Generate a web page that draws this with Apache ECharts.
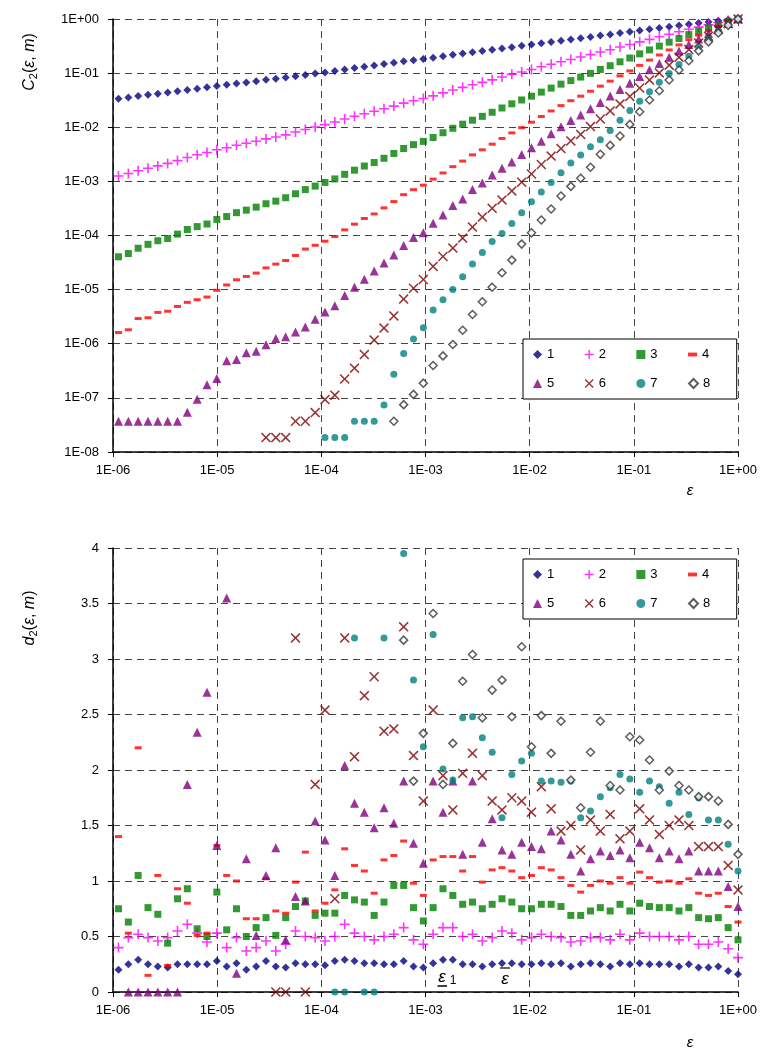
<!DOCTYPE html>
<html><head><meta charset="utf-8">
<script src="https://cdn.jsdelivr.net/npm/echarts@6/dist/echarts.min.js"></script>
<style>html,body{margin:0;padding:0;background:#fff}#c{width:769px;height:1050px}</style>
</head><body><div id="c"></div>
<script>
// scale values epsilon (k = 0 .. 63)
const eps = [1.129e-6,1.404e-6,1.744e-6,2.168e-6,2.694e-6,3.348e-6,4.161e-6,5.171e-6,6.427e-6,7.987e-6,
 9.926e-6,1.234e-5,1.533e-5,1.905e-5,2.368e-5,2.943e-5,3.657e-5,4.545e-5,5.649e-5,7.020e-5,
 8.725e-5,1.084e-4,1.348e-4,1.675e-4,2.081e-4,2.587e-4,3.215e-4,3.995e-4,4.966e-4,6.171e-4,
 7.669e-4,9.532e-4,1.184e-3,1.472e-3,1.830e-3,2.274e-3,2.826e-3,3.512e-3,4.365e-3,5.424e-3,
 6.742e-3,8.379e-3,1.041e-2,1.294e-2,1.608e-2,1.999e-2,2.484e-2,3.088e-2,3.837e-2,4.769e-2,
 5.928e-2,7.367e-2,9.155e-2,0.1138,0.1414,0.1757,0.2184,0.2714,0.3373,0.4190,
 0.5208,0.6473,0.8045,1];

const seriesNames = ['1','2','3','4','5','6','7','8'];

// correlation integral C2(eps, m)
const c2m1 = [0.0335,0.0354,0.0377,0.0398,0.0418,0.0439,0.0464,0.0489,0.0517,0.0546,
 0.0580,0.0610,0.0645,0.0674,0.0708,0.0752,0.0791,0.0830,0.0878,0.0928,
 0.0979,0.103,0.110,0.117,0.124,0.131,0.139,0.147,0.155,0.165,
 0.173,0.182,0.192,0.205,0.218,0.230,0.243,0.255,0.270,0.285,
 0.302,0.319,0.337,0.356,0.376,0.398,0.418,0.442,0.467,0.493,
 0.519,0.549,0.580,0.613,0.647,0.684,0.722,0.759,0.801,0.840,
 0.882,0.927,0.966,1];
const c2m2 = [0.00126,0.00140,0.00157,0.00175,0.00193,0.00215,0.00242,0.00277,0.00310,0.00342,
 0.00384,0.00419,0.00466,0.00505,0.00551,0.00609,0.00660,0.00724,0.00816,0.00910,
 0.0101,0.0112,0.0125,0.0142,0.0160,0.0178,0.0197,0.0220,0.0246,0.0279,
 0.0309,0.0340,0.0380,0.0432,0.0489,0.0546,0.0611,0.0675,0.0751,0.0847,
 0.0950,0.105,0.117,0.131,0.146,0.162,0.179,0.198,0.220,0.245,
 0.271,0.304,0.337,0.378,0.421,0.469,0.523,0.580,0.646,0.709,
 0.779,0.859,0.935,1];
const c2m3 = [4.04e-5,4.64e-5,5.82e-5,6.87e-5,8.00e-5,8.80e-5,1.06e-4,1.29e-4,1.46e-4,1.63e-4,
 1.98e-4,2.24e-4,2.64e-4,2.94e-4,3.34e-4,3.86e-4,4.31e-4,4.99e-4,5.90e-4,7.05e-4,
 8.18e-4,9.55e-4,1.11e-3,1.35e-3,1.61e-3,1.92e-3,2.23e-3,2.67e-3,3.28e-3,4.05e-3,
 4.77e-3,5.48e-3,6.47e-3,7.92e-3,9.57e-3,0.0114,0.0135,0.0159,0.0189,0.0227,
 0.0271,0.0319,0.0375,0.0446,0.0529,0.0626,0.0727,0.0845,0.0990,0.117,
 0.137,0.162,0.190,0.227,0.268,0.316,0.373,0.437,0.516,0.596,
 0.688,0.796,0.903,1];
const c2m4 = [1.61e-6,1.81e-6,2.92e-6,3.02e-6,3.79e-6,3.99e-6,4.89e-6,5.82e-6,6.50e-6,7.29e-6,
 9.71e-6,1.22e-5,1.52e-5,1.75e-5,2.02e-5,2.52e-5,2.96e-5,3.45e-5,4.28e-5,5.62e-5,
 6.59e-5,7.84e-5,9.58e-5,1.27e-4,1.62e-4,2.06e-4,2.50e-4,3.24e-4,4.23e-4,5.68e-4,
 7.03e-4,8.50e-4,1.10e-3,1.43e-3,1.87e-3,2.37e-3,3.09e-3,3.83e-3,4.87e-3,6.21e-3,
 7.87e-3,9.84e-3,0.0124,0.0158,0.0200,0.0251,0.0309,0.0375,0.0463,0.0575,
 0.0711,0.0890,0.110,0.139,0.174,0.216,0.268,0.332,0.415,0.503,
 0.608,0.738,0.872,1];
const c2m5 = [3.70e-8,3.70e-8,3.70e-8,3.70e-8,3.70e-8,3.70e-8,3.70e-8,5.45e-8,9.46e-8,1.74e-7,
 2.29e-7,4.83e-7,5.13e-7,6.79e-7,7.30e-7,9.55e-7,1.25e-6,1.34e-6,1.64e-6,2.04e-6,
 2.85e-6,3.84e-6,5.01e-6,7.82e-6,1.11e-5,1.56e-5,2.20e-5,3.09e-5,4.35e-5,6.56e-5,
 9.23e-5,1.12e-4,1.69e-4,2.38e-4,3.60e-4,4.71e-4,7.11e-4,9.31e-4,1.31e-3,1.74e-3,
 2.28e-3,3.13e-3,4.16e-3,5.51e-3,7.55e-3,0.0102,0.0133,0.0169,0.0219,0.0288,
 0.0377,0.0498,0.0647,0.0867,0.115,0.150,0.197,0.256,0.337,0.428,
 0.542,0.687,0.845,1];
const c2m6 = [null,null,null,null,null,null,null,null,null,null,
 null,null,null,null,null,1.85e-8,1.85e-8,1.85e-8,3.70e-8,3.70e-8,
 5.35e-8,9.29e-8,1.12e-7,2.23e-7,3.54e-7,6.32e-7,1.17e-6,1.95e-6,3.27e-6,6.68e-6,
 1.06e-5,1.54e-5,2.68e-5,4.09e-5,5.85e-5,8.98e-5,1.43e-4,2.19e-4,3.18e-4,4.54e-4,
 6.65e-4,9.66e-4,1.37e-3,2.05e-3,2.94e-3,4.03e-3,5.58e-3,7.37e-3,0.0103,0.0142,
 0.0200,0.0270,0.0371,0.0531,0.0743,0.101,0.140,0.196,0.272,0.362,
 0.481,0.639,0.819,1];
const c2m7 = [null,null,null,null,null,null,null,null,null,null,
 null,null,null,null,null,null,null,null,null,null,
 null,1.85e-8,1.85e-8,1.85e-8,3.70e-8,3.70e-8,3.70e-8,7.40e-8,2.74e-7,6.61e-7,
 1.22e-6,1.97e-6,4.21e-6,6.53e-6,1.01e-5,1.73e-5,2.96e-5,4.86e-5,7.78e-5,1.09e-4,
 1.67e-4,2.63e-4,4.20e-4,6.34e-4,9.57e-4,1.44e-3,2.18e-3,3.06e-3,4.37e-3,5.90e-3,
 8.75e-3,0.0134,0.0203,0.0301,0.0455,0.0680,0.0983,0.145,0.206,0.301,
 0.422,0.591,0.789,1];
const c2m8 = [null,null,null,null,null,null,null,null,null,null,
 null,null,null,null,null,null,null,null,null,null,
 null,null,null,null,null,null,null,null,3.70e-8,7.50e-8,
 1.16e-7,1.87e-7,3.97e-7,5.97e-7,9.70e-7,1.78e-6,3.48e-6,5.96e-6,1.11e-5,2.05e-5,
 3.51e-5,6.93e-5,1.12e-4,1.93e-4,3.08e-4,5.35e-4,8.09e-4,1.14e-3,1.82e-3,3.16e-3,
 4.62e-3,6.87e-3,0.0113,0.0194,0.0318,0.0473,0.0745,0.114,0.169,0.258,
 0.378,0.550,0.764,1];

// local slope d2(eps, m)
const d2m1 = [0.20,0.25,0.29,0.25,0.23,0.22,0.25,0.25,0.25,0.25,0.28,0.23,0.26,0.20,0.23,0.28,0.23,0.22,0.26,0.25,0.25,
 0.24,0.28,0.29,0.28,0.26,0.26,0.25,0.25,0.28,0.23,0.22,0.26,0.29,0.29,0.25,0.25,0.23,0.25,0.26,0.26,
 0.25,0.25,0.26,0.25,0.26,0.23,0.25,0.26,0.25,0.23,0.26,0.25,0.26,0.25,0.25,0.25,0.23,0.25,0.22,0.22,0.23,0.19,0.16];
const d2m2 = [0.40,0.49,0.52,0.49,0.46,0.49,0.55,0.61,0.53,0.45,0.53,0.40,0.49,0.37,0.40,0.46,0.37,0.43,0.55,0.50,0.49,
 0.46,0.50,0.61,0.53,0.50,0.47,0.50,0.52,0.58,0.47,0.43,0.52,0.58,0.58,0.50,0.52,0.46,0.49,0.55,0.53,
 0.47,0.49,0.52,0.50,0.49,0.45,0.46,0.49,0.49,0.47,0.52,0.47,0.53,0.50,0.50,0.50,0.47,0.50,0.43,0.43,0.45,0.39,0.31];
const d2m3 = [0.75,0.63,1.05,0.76,0.70,0.44,0.84,0.93,0.57,0.50,0.90,0.56,0.75,0.50,0.58,0.67,0.51,0.67,0.77,0.82,0.69,
 0.71,0.71,0.87,0.83,0.81,0.69,0.81,0.96,0.96,0.76,0.64,0.76,0.93,0.87,0.79,0.81,0.75,0.79,0.84,0.81,
 0.75,0.75,0.79,0.79,0.77,0.69,0.69,0.73,0.76,0.73,0.79,0.73,0.80,0.77,0.76,0.76,0.73,0.76,0.67,0.66,0.67,0.58,0.47];
const d2m4 = [1.40,0.53,2.20,0.15,1.05,0.24,0.93,0.80,0.51,0.53,1.32,1.05,1.00,0.66,0.66,1.02,0.73,0.71,0.99,1.26,0.73,
 0.80,0.92,1.29,1.14,1.09,0.89,1.19,1.23,1.36,0.98,0.87,1.19,1.22,1.22,1.09,1.22,0.99,1.10,1.12,1.09,
 1.03,1.05,1.12,1.10,1.03,0.96,0.90,0.96,1.00,0.98,1.03,0.98,1.08,1.03,0.99,1.00,0.98,1.02,0.89,0.87,0.89,0.77,0.63];
const d2m5 = [null,0,0,0,0,0,0,1.87,2.34,2.70,1.32,3.55,0.17,1.20,0.51,1.05,1.30,0.47,0.86,0.82,
 1.54,1.37,1.05,2.04,1.70,1.62,1.48,1.66,1.52,1.90,
 1.34,1.16,1.90,1.62,1.90,1.24,1.90,1.35,1.56,1.28,
 1.24,1.35,1.31,1.29,1.45,1.37,1.24,1.09,1.20,1.27,
 1.23,1.28,1.21,1.35,1.30,1.21,1.27,1.20,1.27,1.09,
 1.09,1.09,0.95,0.77];
const d2m6 = [null,null,null,null,null,null,null,null,null,null,
 null,null,null,null,null,null,0,0,3.19,0,
 1.87,2.54,0.84,3.19,2.12,2.67,2.84,2.35,2.37,3.29,
 2.13,1.72,2.54,1.95,1.64,1.97,2.15,1.95,1.72,1.64,
 1.75,1.72,1.62,1.85,1.65,1.45,1.50,1.28,1.55,1.45,
 1.60,1.38,1.45,1.65,1.55,1.42,1.50,1.55,1.50,1.31,
 1.31,1.31,1.14,0.92];
const d2m7 = [null,null,null,null,null,null,null,null,null,null,
 null,null,null,null,null,null,null,null,null,null,
 null,null,0,0,3.19,0,0,3.19,5.68,3.95,
 2.81,2.21,3.22,2.01,1.91,2.47,2.48,2.29,2.16,1.57,
 1.96,2.08,2.15,1.90,1.90,1.89,1.90,1.57,1.63,1.76,
 1.84,1.96,1.92,1.80,1.90,1.85,1.70,1.80,1.60,1.75,
 1.55,1.55,1.33,1.09];
const d2m8 = [null,null,null,null,null,null,null,null,null,null,
 null,null,null,null,null,null,null,null,null,null,
 null,null,null,null,null,null,null,null,null,3.17,
 1.90,2.33,3.41,1.87,2.24,2.80,3.04,2.47,2.72,2.81,
 2.48,3.11,2.21,2.49,2.15,2.44,1.91,1.66,2.16,2.44,
 1.86,1.82,2.30,2.27,2.09,1.82,1.99,1.86,1.82,1.76,
 1.76,1.72,1.51,1.24];

const xTickLabels = ['1E-06','1E-05','1E-04','1E-03','1E-02','1E-01','1E+00'];
const cTickLabels = ['1E-08','1E-07','1E-06','1E-05','1E-04','1E-03','1E-02','1E-01','1E+00'];
const dTickLabels = ['0','0.5','1','1.5','2','2.5','3','3.5','4'];

const C2 = [c2m1,c2m2,c2m3,c2m4,c2m5,c2m6,c2m7,c2m8];
const D2 = [d2m1,d2m2,d2m3,d2m4,d2m5,d2m6,d2m7,d2m8];

const FF = '"Liberation Sans", Arial, sans-serif';
const PLUS = 'path://M4.2,0 H5.8 V4.2 H10 V5.8 H5.8 V10 H4.2 V5.8 H0 V4.2 H4.2 Z';
const CROSS = 'path://M0,1.1 L1.1,0 L5,3.9 L8.9,0 L10,1.1 L6.1,5 L10,8.9 L8.9,10 L5,6.1 L1.1,10 L0,8.9 L3.9,5 Z';
const DASH = 'path://M0,0 H7 V3 H0 Z';
const styles = [
  {symbol:'diamond', size:8, item:{color:'#000080'}},
  {symbol:PLUS, size:10, item:{color:'#FF00FF'}},
  {symbol:'rect', size:7, item:{color:'#008000'}},
  {symbol:DASH, size:[7,3], item:{color:'#FF0000'}},
  {symbol:'triangle', size:9, item:{color:'#800080'}},
  {symbol:CROSS, size:10, item:{color:'#800000'}},
  {symbol:'circle', size:7, item:{color:'#008080'}},
  {symbol:'diamond', size:8, item:{color:'#FFFFFF', borderColor:'#333333', borderWidth:1.5}}
];

function pts(vals){ const out=[]; vals.forEach((v,i)=>{ if(v!==null) out.push([eps[i], v]); }); return out; }
function ex(v){ return Math.round(Math.log10(v)); }

const series = [];
for (let m=0;m<8;m++){
  series.push({type:'scatter', name:seriesNames[m], xAxisIndex:0, yAxisIndex:0, data:pts(C2[m]),
    symbol:styles[m].symbol, symbolSize:styles[m].size, itemStyle:styles[m].item, z:2+m});
}
for (let m=0;m<8;m++){
  series.push({type:'scatter', name:seriesNames[m], xAxisIndex:1, yAxisIndex:1, data:pts(D2[m]),
    symbol:styles[m].symbol, symbolSize:styles[m].size, itemStyle:styles[m].item, clip:true, z:2+m});
}

const gridLine = {show:true, lineStyle:{color:'#444', type:[7,5], width:1}};
const axisLine = {show:true, onZero:false, lineStyle:{color:'#000', width:1.5}};
const axisTick = {show:true, inside:false, length:5, lineStyle:{color:'#000', width:1}};
const lbl = {fontSize:13, color:'#000', fontFamily:FF};

function xAx(g){ return {type:'log', logBase:10, gridIndex:g, min:1e-6, max:1, axisLine, axisTick, splitLine:gridLine,
  axisLabel:Object.assign({margin:12, formatter:v=>xTickLabels[ex(v)+6]}, lbl)}; }

const legendBase = {orient:'horizontal', width:195, padding:[9,12,9,10], itemWidth:9, itemHeight:9, itemGap:16,
  borderColor:'#000', borderWidth:1, backgroundColor:'#fff', selectedMode:false,
  formatter:name=>name+'\u00a0\u00a0\u00a0\u00a0',
  textStyle:{fontSize:13, color:'#000', fontFamily:FF},
  data:seriesNames};

const it = {fontStyle:'italic', fontSize:16, fontFamily:FF, fill:'#000'};
const sub = {fontSize:11, fontFamily:FF, fill:'#000', padding:[8,0,0,0]};
const eStyle = {fontStyle:'italic', fontSize:17, fontFamily:FF, fill:'#000', align:'center', verticalAlign:'middle'};

const option = {
  backgroundColor:'#fff', animation:false,
  textStyle:{fontFamily:FF},
  grid:[{left:113, top:19, width:625, height:433}, {left:113, top:548, width:625, height:444}],
  xAxis:[xAx(0), xAx(1)],
  yAxis:[
    {type:'log', logBase:10, gridIndex:0, min:1e-8, max:1, axisLine, axisTick, splitLine:gridLine,
     axisLabel:Object.assign({margin:14, formatter:v=>cTickLabels[ex(v)+8]}, lbl)},
    {type:'value', gridIndex:1, min:0, max:4, interval:0.5, axisLine, axisTick, splitLine:gridLine,
     axisLabel:Object.assign({margin:14, formatter:v=>dTickLabels[Math.round(v/0.5)]}, lbl)}
  ],
  legend:[Object.assign({left:523, top:339}, legendBase), Object.assign({left:523, top:559}, legendBase)],
  series,
  graphic:[
    {type:'text', x:30, y:62, rotation:Math.PI/2, z:100, style:{text:'{i|C}{s|2}({i|ε}, {i|m})', rich:{i:it, s:sub},
      fontSize:16, fontFamily:FF, fill:'#000', align:'center', verticalAlign:'middle'}},
    {type:'text', x:30, y:618, rotation:Math.PI/2, z:100, style:{text:'{i|d}{s|2}({i|ε}, {i|m})', rich:{i:it, s:sub},
      fontSize:16, fontFamily:FF, fill:'#000', align:'center', verticalAlign:'middle'}},
    {type:'text', x:690, y:491, z:100, style:Object.assign({text:'ε'}, eStyle, {fontSize:15})},
    {type:'text', x:690, y:1043, z:100, style:Object.assign({text:'ε'}, eStyle, {fontSize:15})},
    {type:'text', x:442, y:977, z:100, style:Object.assign({text:'ε'}, eStyle)},
    {type:'text', x:453, y:981, z:100, style:{text:'1', fontSize:12, fontFamily:FF, fill:'#000', align:'center', verticalAlign:'middle'}},
    {type:'line', z:100, shape:{x1:437.5, y1:986, x2:447, y2:986}, style:{stroke:'#000', lineWidth:1.5}},
    {type:'text', x:505, y:979, z:100, style:Object.assign({text:'ε'}, eStyle)},
    {type:'line', z:100, shape:{x1:500, y1:968, x2:510, y2:968}, style:{stroke:'#000', lineWidth:1.2}}
  ]
};
const chart = echarts.init(document.getElementById('c'), null, {renderer:'canvas'});
chart.setOption(option);
</script>
</body></html>
